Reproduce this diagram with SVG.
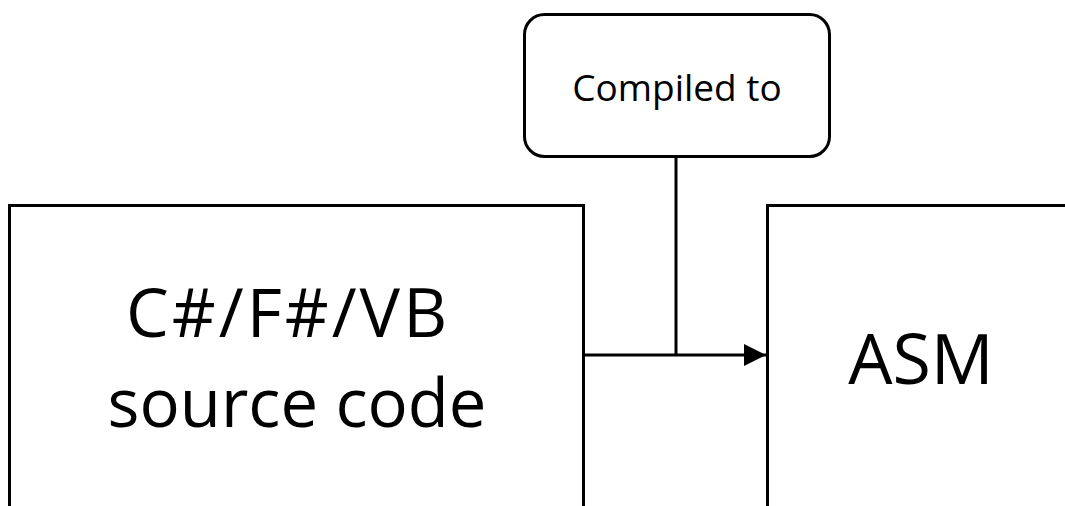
<svg xmlns="http://www.w3.org/2000/svg" width="1065" height="506" viewBox="0 0 1065 506">
  <style>
    .box { fill: #ffffff; stroke: #000000; stroke-width: 3; }
    .wire { fill: none; stroke: #000000; stroke-width: 3; }
    .label { font-family: "Open Sans", "Noto Sans", sans-serif; fill: #000000; text-anchor: middle; }
  </style>
  <defs>
    <marker id="arrowhead" markerUnits="userSpaceOnUse" markerWidth="24" markerHeight="22" refX="22" refY="11" orient="auto">
      <path d="M0,0 L22,11 L0,22 Z" fill="#000000"/>
    </marker>
  </defs>
  <rect width="1065" height="506" fill="#ffffff"/>

  <g id="source">
    <rect class="box" x="9.5" y="205.5" width="574" height="320"/>
    <text class="label" x="288" y="337" font-size="68" letter-spacing="3">C#/F#/VB</text>
    <text class="label" x="297" y="427" font-size="67">source code</text>
  </g>

  <g id="asm">
    <rect class="box" x="767.5" y="205.5" width="320" height="320"/>
    <text class="label" x="921" y="384" font-size="70">ASM</text>
  </g>

  <g id="callout">
    <rect class="box" x="524.5" y="14.5" width="305" height="142" rx="20" ry="20"/>
    <text class="label" x="677" y="101" font-size="37">Compiled to</text>
  </g>

  <g id="connectors">
    <line class="wire" x1="584" y1="355" x2="766" y2="355" marker-end="url(#arrowhead)"/>
    <line class="wire" x1="676" y1="157" x2="676" y2="355"/>
  </g>
</svg>
